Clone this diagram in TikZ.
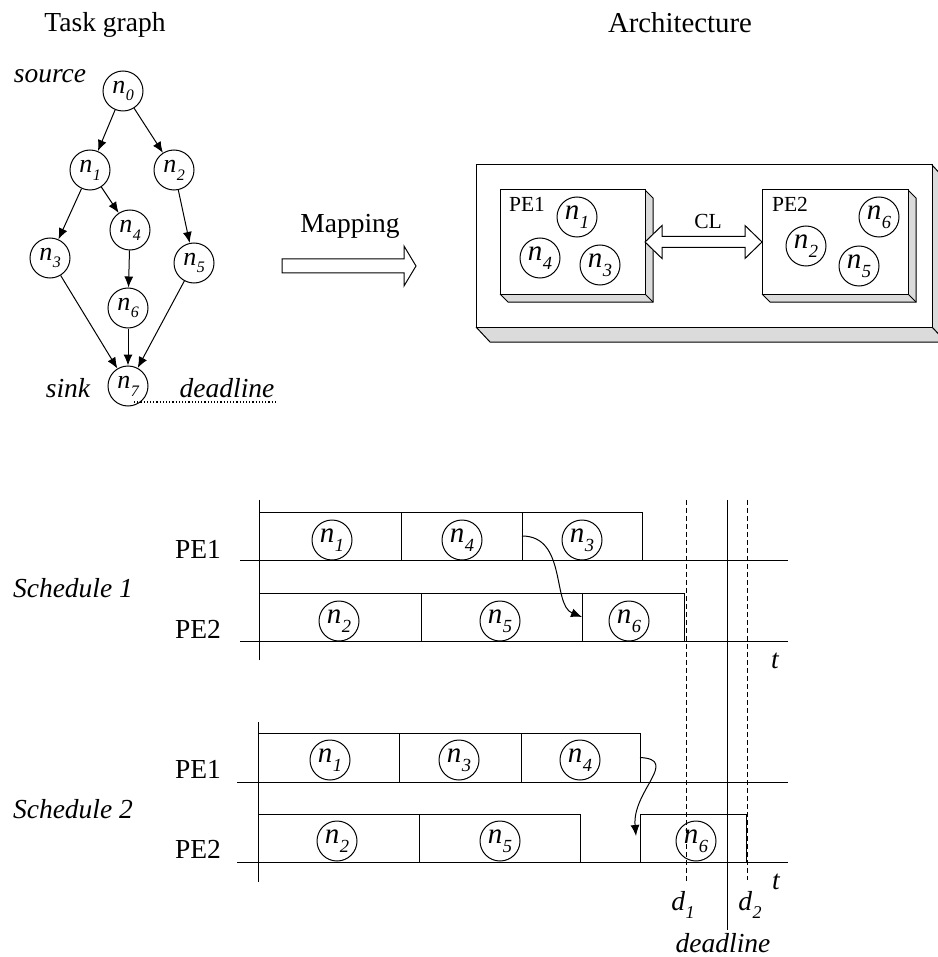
\documentclass[tikz,border=0pt]{standalone}
\usepackage{fontspec}
\setmainfont{Liberation Serif}
\usetikzlibrary{arrows.meta,calc}
\newcommand{\tn}[1]{{\fontsize{26}{26}\selectfont\itshape n\kern0.5pt\raisebox{-0.3em}{\fontsize{16}{16}\selectfont #1}}}
\newcommand{\sn}[1]{{\fontsize{29}{29}\selectfont\itshape n\kern0.5pt\raisebox{-0.3em}{\fontsize{18.5}{18.5}\selectfont #1}}}
\newcommand{\dd}[1]{{\itshape d\kern0.5pt\raisebox{-0.3em}{\fontsize{18}{18}\selectfont #1}}}
\newcommand{\gbox}[5]{\node[gbox, minimum width={#3-#2}, minimum height={#5-#4}] (#1) at ({(#2+#3)/2},{(#4+#5)/2}) {};}
\tikzset{
  lab/.style={font=\fontsize{27.5}{30}\selectfont, inner sep=0pt, anchor=base},
  ilab/.style={font=\fontsize{27.5}{30}\selectfont\itshape, inner sep=0pt, anchor=base},
  alab/.style={font=\fontsize{21.5}{24}\selectfont, inner sep=0pt, anchor=base},
  tcirc/.style={circle, draw, minimum size=40pt, inner sep=0pt},
  gbox/.style={draw, rectangle, inner sep=0pt, outer sep=0pt},
  garrow/.style={-{Latex[length=11pt,width=9pt]}},
  shade3d/.style={fill=gray!28}
}
\begin{document}
\begin{tikzpicture}[x=1pt,y=-1pt,line width=1pt]
\useasboundingbox (0,0) rectangle (937,957);

% ---------- Task graph ----------
\node[lab] (tgt) at (105,32) {Task graph};
\node[ilab] (src) at (50,83) {source};
\node[tcirc] (g0) at (123,91) {\tn{0}};
\node[tcirc] (g1) at (90,170) {\tn{1}};
\node[tcirc] (g2) at (174,170) {\tn{2}};
\node[tcirc] (g3) at (50,258) {\tn{3}};
\node[tcirc] (g4) at (130,230) {\tn{4}};
\node[tcirc] (g5) at (194,263) {\tn{5}};
\node[tcirc] (g6) at (128,308) {\tn{6}};
\node[tcirc] (g7) at (128,386) {\tn{7}};
\node[ilab] (snk) at (68,397) {sink};
\node[ilab] (tdl) at (227,397) {deadline};
\coordinate (dl1) at (134,402);
\coordinate (dl2) at (277,402);
\draw[dotted, line width=1.2pt] (dl1) -- (dl2);
\foreach \a/\b in {g0/g1,g0/g2,g1/g3,g1/g4,g2/g5,g4/g6,g3/g7,g6/g7,g5/g7}
  \draw[garrow] (\a) -- (\b);

% ---------- Mapping ----------
\node[lab] (map) at (350,233) {Mapping};
\draw[fill=white] (282,259) -- (404,259) -- (404,246) -- (416,266) -- (404,286) -- (404,273) -- (282,273) -- cycle;

% ---------- Architecture ----------
\node[lab, font=\fontsize{28.8}{30}\selectfont] (arch) at (680,33) {Architecture};
\fill[shade3d] (476,327) -- (490,342) -- (946,342) -- (946,180) -- (932,165) -- (932,327) -- cycle;
\draw (476,165) rectangle (932,327);
\draw (476,327) -- (490,342) -- (946,342) -- (946,180) -- (932,165);
\draw (932,327) -- (946,342);
% PE1
\fill[shade3d] (500,294) -- (508,302) -- (653,302) -- (653,198) -- (645,190) -- (645,294) -- cycle;
\draw (500,294) -- (508,302) -- (653,302) -- (653,198) -- (645,190);
\draw (645,294) -- (653,302);
\node[draw, fill=white, minimum width=145, minimum height=104, inner sep=0pt, outer sep=0pt] (pe1) at (572.5,242) {};
% PE2
\fill[shade3d] (762,294) -- (770,302) -- (916,302) -- (916,198) -- (908,190) -- (908,294) -- cycle;
\draw (762,294) -- (770,302) -- (916,302) -- (916,198) -- (908,190);
\draw (908,294) -- (916,302);
\node[draw, fill=white, minimum width=146, minimum height=104, inner sep=0pt, outer sep=0pt] (pe2) at (835,242) {};
\node[alab] (pe1l) at (527,212) {PE1};
\node[alab] (pe2l) at (790,212) {PE2};
\node[alab] (cl) at (708,229) {CL};
\node[tcirc] (a1) at (577,217) {\sn{1}};
\node[tcirc] (a4) at (540,258) {\sn{4}};
\node[tcirc] (a3) at (600,265) {\sn{3}};
\node[tcirc] (a6) at (879,217) {\sn{6}};
\node[tcirc] (a2) at (806,246) {\sn{2}};
\node[tcirc] (a5) at (859,266) {\sn{5}};
\draw[fill=white] (pe1.east) -- ++(17,-16.5) -- ++(0,11) -- ($(pe2.west)+(-17,-5.5)$) -- ++(0,-11) -- (pe2.west) -- ++(-17,16.5) -- ++(0,-11) -- ($(pe1.east)+(17,5.5)$) -- ++(0,11) -- cycle;

% ---------- Schedule 1 ----------
\node[ilab] (s1) at (73,597) {Schedule 1};
\node[lab] (s1p1) at (198,558) {PE1};
\node[lab] (s1p2) at (198,638) {PE2};
\gbox{b11}{259}{401}{512}{560}
\gbox{b14}{401}{522}{512}{560}
\gbox{b13}{522}{642}{512}{560}
\gbox{b12}{259}{421}{593}{641}
\gbox{b15}{421}{582}{593}{641}
\gbox{b16}{582}{684}{593}{641}
\draw (240,560) -- (788,560);
\draw (240,641) -- (788,641);
\draw (259,500) -- (259,660);
\node[tcirc] (c11) at (332,540) {\sn{1}};
\node[tcirc] (c14) at (462,540) {\sn{4}};
\node[tcirc] (c13) at (582,540) {\sn{3}};
\node[tcirc] (c12) at (339,621) {\sn{2}};
\node[tcirc] (c15) at (500,621) {\sn{5}};
\node[tcirc] (c16) at (629,621) {\sn{6}};
\draw[garrow] (b14.east) .. controls +(45,0) and +(-30,-12) .. (b16.west);
\node[ilab] (t1) at (775,668) {t};

% ---------- Schedule 2 ----------
\node[ilab] (s2) at (73,818) {Schedule 2};
\node[lab] (s2p1) at (198,778) {PE1};
\node[lab] (s2p2) at (198,858) {PE2};
\gbox{b21}{258}{399}{733}{782}
\gbox{b23}{399}{521}{733}{782}
\gbox{b24}{521}{640}{733}{782}
\gbox{b22}{258}{419}{814}{862}
\gbox{b25}{419}{580}{814}{862}
\gbox{b26}{640}{746}{814}{862}
\draw (237,782) -- (788,782);
\draw (237,862) -- (788,862);
\draw (258,722) -- (258,882);
\node[tcirc] (c21) at (330,760) {\sn{1}};
\node[tcirc] (c23) at (459,760) {\sn{3}};
\node[tcirc] (c24) at (580,760) {\sn{4}};
\node[tcirc] (c22) at (337,841) {\sn{2}};
\node[tcirc] (c25) at (500,841) {\sn{5}};
\node[tcirc] (c26) at (696,841) {\sn{6}};
\draw[garrow] (b24.east) .. controls +(40,2) and +(-4,-45) .. ($(b26.west)+(-4,-2)$);
\node[ilab] (t2) at (776,889) {t};

% ---------- deadlines ----------
\draw[dash pattern=on 5pt off 3pt] (686,500) -- (686,882);
\draw (727,500) -- (727,930);
\draw[dash pattern=on 5pt off 3pt] (747,500) -- (747,880);
\node[ilab] (d1) at (683,910) {\dd{1}};
\node[ilab] (d2) at (750,910) {\dd{2}};
\node[ilab] (dl) at (723,952) {deadline};
\end{tikzpicture}
\end{document}
